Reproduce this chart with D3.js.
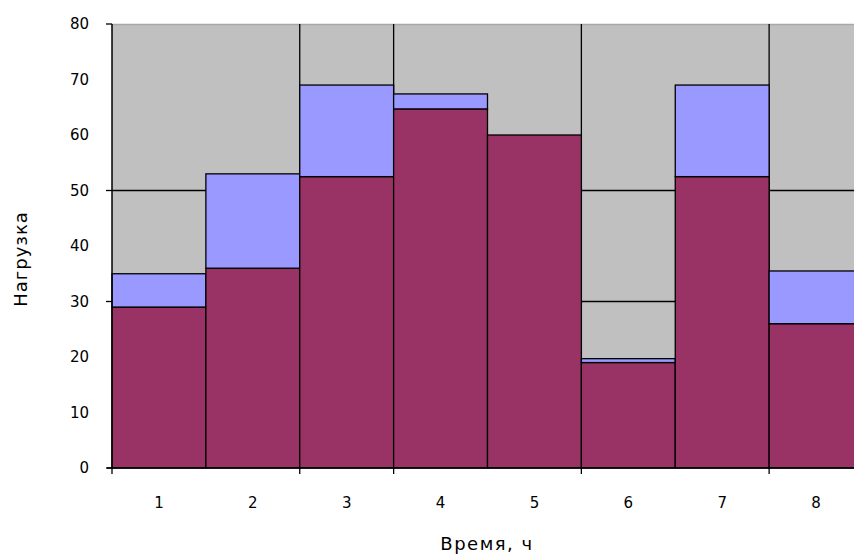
<!DOCTYPE html>
<html><head><meta charset="utf-8">
<script src="https://cdn.jsdelivr.net/npm/d3@7"></script>
<style>body{margin:0;background:#fff}svg{display:block}text{font-family:"DejaVu Sans",Arial,sans-serif}</style>
</head><body>
<svg id="c" width="854" height="556"></svg>
<script>
const categories = ["1","2","3","4","5","6","7","8"];
const baseLoad  = [29, 36, 52.5, 64.7, 60, 19, 52.5, 26];
const extraLoad = [6, 17, 16.5, 2.7, 0, 0.7, 16.5, 9.5];
const yTickValues = [0,10,20,30,40,50,60,70,80];
const yMajor = [0,30,50,80];
const yGrid = [30,50];
const xBoundaryIdx = [0,2,3,5,7];
const xGridIdx = [2,3,5,7];
const yTitle = "Нагрузка";
const xTitle = "Время, ч";

const svg = d3.select("#c");
const L = 112, R = 863, T = 24, B = 468;
const x = d3.scaleBand().domain(categories).range([L, R]).padding(0);
const y = d3.scaleLinear().domain([0, 80]).range([B, T]);

// plot area
svg.append("rect").attr("x", L).attr("y", T).attr("width", R - L).attr("height", B - T).attr("fill", "#c0c0c0");
svg.append("line").attr("x1", L).attr("x2", R).attr("y1", T + 0.5).attr("y2", T + 0.5).attr("stroke", "#a8a8a8").attr("stroke-width", 1.5);

// gridlines
svg.append("g").selectAll("line").data(yGrid).join("line")
  .attr("x1", L).attr("x2", R).attr("y1", d => y(d)).attr("y2", d => y(d))
  .attr("stroke", "#000").attr("stroke-width", 1.3);
svg.append("g").selectAll("line").data(xGridIdx).join("line")
  .attr("x1", i => x(categories[i])).attr("x2", i => x(categories[i]))
  .attr("y1", T).attr("y2", B).attr("stroke", "#000").attr("stroke-width", 1.3);

// bars
const bars = svg.append("g");
categories.forEach((c, i) => {
  bars.append("rect").attr("x", x(c)).attr("width", x.bandwidth())
    .attr("y", y(baseLoad[i])).attr("height", y(0) - y(baseLoad[i]))
    .attr("fill", "#993366").attr("stroke", "#000").attr("stroke-width", 1.3);
  if (extraLoad[i] > 0) {
    const top = baseLoad[i] + extraLoad[i];
    bars.append("rect").attr("x", x(c)).attr("width", x.bandwidth())
      .attr("y", y(top)).attr("height", y(baseLoad[i]) - y(top))
      .attr("fill", "#9999ff").attr("stroke", "#000").attr("stroke-width", 1.3);
  }
});

// axes
svg.append("line").attr("x1", L).attr("x2", L).attr("y1", T).attr("y2", B).attr("stroke", "#000").attr("stroke-width", 1.5);
svg.append("line").attr("x1", L - 5).attr("x2", R).attr("y1", B).attr("y2", B).attr("stroke", "#000").attr("stroke-width", 1.5);
svg.append("g").selectAll("line").data(yMajor).join("line")
  .attr("x1", L - 6).attr("x2", L).attr("y1", d => y(d)).attr("y2", d => y(d))
  .attr("stroke", "#000").attr("stroke-width", 1.3);
svg.append("g").selectAll("line").data(xBoundaryIdx).join("line")
  .attr("x1", i => x(categories[i])).attr("x2", i => x(categories[i]))
  .attr("y1", B).attr("y2", B + 6).attr("stroke", "#000").attr("stroke-width", 1.3);

svg.append("g").selectAll("text").data(yTickValues).join("text")
  .attr("x", 89).attr("y", d => y(d)).attr("dy", "0.35em")
  .attr("text-anchor", "end").attr("font-size", 15).attr("fill", "#000")
  .text(d => d);
svg.append("g").selectAll("text").data(categories).join("text")
  .attr("x", d => x(d) + x.bandwidth() / 2).attr("y", 503).attr("dy", "0.35em")
  .attr("text-anchor", "middle").attr("font-size", 15).attr("fill", "#000")
  .text(d => d);

svg.append("text").attr("x", 487).attr("y", 544).attr("dy", "0.35em")
  .attr("text-anchor", "middle").attr("font-size", 18).attr("letter-spacing", 1.5).text(xTitle);
svg.append("text").attr("transform", "translate(21,259) rotate(-90)").attr("dy", "0.35em")
  .attr("text-anchor", "middle").attr("font-size", 18).attr("letter-spacing", 1).text(yTitle);
</script>
</body></html>
